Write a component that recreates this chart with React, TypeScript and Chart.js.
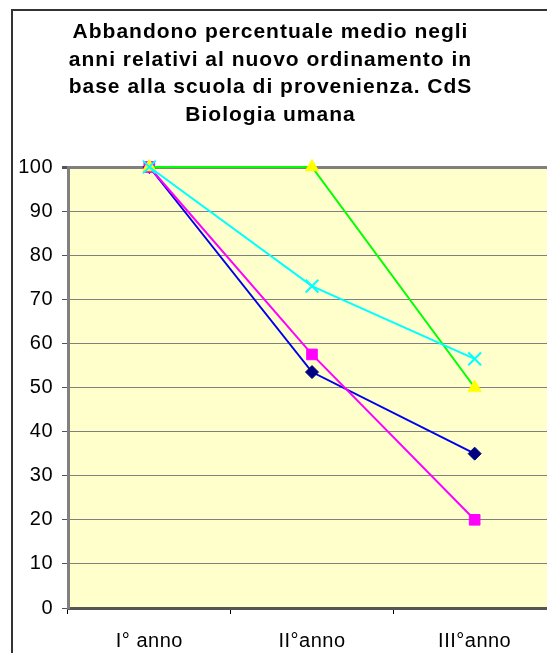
import React, { useEffect, useRef } from "react";
import { Chart, registerables } from "chart.js";

Chart.register(...registerables);

const titleLines = [
  "Abbandono percentuale medio negli",
  "anni relativi al nuovo ordinamento in",
  "base alla scuola di provenienza. CdS",
  "Biologia umana",
];

const categories = ["I° anno", "II°anno", "III°anno"];

const seriesBlue = [100, 53.5, 35];
const seriesMagenta = [100, 57.5, 20];
const seriesGreenYellow = [100, 100, 50];
const seriesCyan = [100, 73, 56.5];

const yMin = 0;
const yMax = 100;
const yStep = 10;

const FONT = "'Liberation Sans', Arial, Helvetica, sans-serif";

const excelPlot = {
  id: "excelPlot",
  beforeUpdate(chart: any) {
    chart.ctx.letterSpacing = "0.5px";
  },
  beforeDraw(chart: any) {
    const { ctx, chartArea: a } = chart;
    ctx.letterSpacing = "0.5px";
    ctx.save();
    ctx.fillStyle = "#FFFFCC";
    ctx.fillRect(a.left, a.top, a.right - a.left, a.bottom - a.top);
    ctx.restore();
  },
};

export default function App() {
  const ref = useRef<HTMLCanvasElement | null>(null);

  useEffect(() => {
    if (!ref.current) return;
    const chart = new Chart(ref.current, {
      type: "line",
      data: {
        labels: categories,
        datasets: [
          {
            label: "A",
            data: seriesBlue,
            borderColor: "#0000EE",
            borderWidth: 2,
            pointStyle: "rectRot",
            pointRadius: 6.5,
            pointBackgroundColor: "#000080",
            pointBorderColor: "#000080",
            pointBorderWidth: 1,
            order: 3,
            clip: false,
          },
          {
            label: "B",
            data: seriesMagenta,
            borderColor: "#FF00FF",
            borderWidth: 2,
            pointStyle: "rect",
            pointRadius: 7.5,
            pointBackgroundColor: "#FF00FF",
            pointBorderColor: "#FF00FF",
            pointBorderWidth: 1,
            order: 2,
            clip: false,
          },
          {
            label: "C",
            data: seriesGreenYellow,
            borderColor: "#00FF00",
            borderWidth: 2,
            pointStyle: "triangle",
            pointRadius: 7.5,
            pointBackgroundColor: "#FFFF00",
            pointBorderColor: "#FFFF00",
            pointBorderWidth: 1,
            order: 1,
            clip: false,
          },
          {
            label: "D",
            data: seriesCyan,
            borderColor: "#00FFFF",
            borderWidth: 2,
            pointStyle: "crossRot",
            pointRadius: 9,
            pointBackgroundColor: "#00FFFF",
            pointBorderColor: "#00FFFF",
            pointBorderWidth: 2,
            order: 0,
            clip: false,
          },
        ],
      },
      options: {
        animation: false,
        responsive: false,
        maintainAspectRatio: false,
        events: [],
        layout: { padding: { top: 167, right: 14, left: 0, bottom: 0 } },
        plugins: {
          legend: { display: false },
          tooltip: { enabled: false },
          title: { display: false },
        },
        elements: { line: { tension: 0 } },
        scales: {
          x: {
            type: "category",
            offset: true,
            afterFit: (s: any) => {
              s.height = 45;
            },
            grid: {
              display: true,
              offset: true,
              drawOnChartArea: false,
              drawTicks: true,
              tickLength: 6,
              color: "#000000",
              lineWidth: 1,
            },
            border: { display: true, color: "#555555", width: 3 },
            ticks: {
              color: "#000000",
              font: { family: FONT, size: 20 },
              padding: 15,
              maxRotation: 0,
              autoSkip: false,
            },
          },
          y: {
            min: yMin,
            max: yMax,
            afterFit: (s: any) => {
              s.width = 68;
            },
            grid: {
              display: true,
              drawOnChartArea: true,
              drawTicks: true,
              tickLength: 6,
              color: "#808080",
              lineWidth: (c: any) => (c.tick && c.tick.value === yMax ? 3 : 1),
              tickColor: "#555555",
            },
            border: { display: true, color: "#808080", width: 3 },
            ticks: {
              stepSize: yStep,
              color: "#000000",
              font: { family: FONT, size: 20 },
              padding: 9,
            },
          },
        },
      },
      plugins: [excelPlot],
    } as any);
    return () => chart.destroy();
  }, []);

  return (
    <div
      style={{
        position: "fixed",
        left: 0,
        top: 0,
        width: 547,
        height: 653,
        overflow: "hidden",
        background: "#ffffff",
      }}
    >
      <div
        style={{
          position: "absolute",
          left: 11,
          top: 9,
          width: 700,
          height: 800,
          border: "2px solid #333333",
          boxSizing: "border-box",
        }}
      />
      <canvas
        ref={ref}
        width={570}
        height={653}
        style={{ position: "absolute", left: 0, top: 0, width: 570, height: 653 }}
      />
      <div
        style={{
          position: "absolute",
          left: 11,
          top: 17,
          width: 519,
          textAlign: "center",
          fontFamily: FONT,
          fontWeight: "bold",
          fontSize: 21,
          letterSpacing: "1px",
          lineHeight: "27.7px",
          color: "#000000",
        }}
      >
        {titleLines.map((l, i) => (
          <div key={i}>{l}</div>
        ))}
      </div>
    </div>
  );
}
